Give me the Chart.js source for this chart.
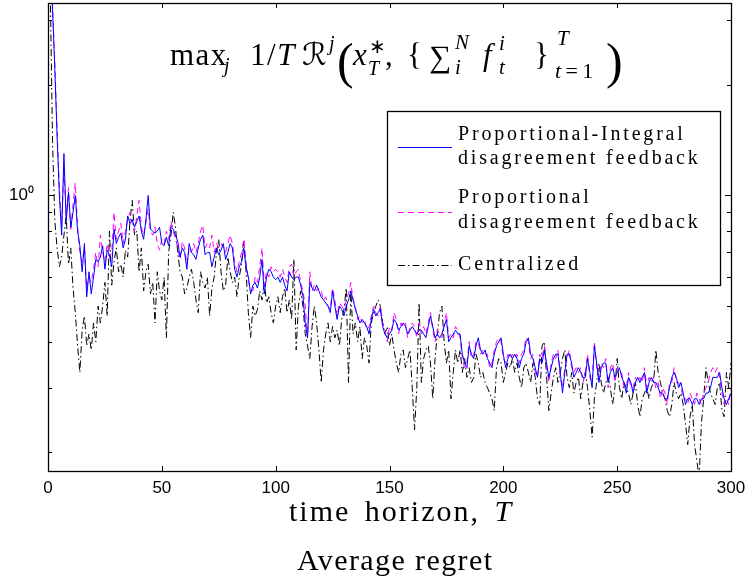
<!DOCTYPE html>
<html>
<head>
<meta charset="utf-8">
<script src="https://cdn.jsdelivr.net/npm/chart.js@4.4.1/dist/chart.umd.min.js"></script>
<style>
  html,body{margin:0;padding:0;background:#fff;}
  #wrap{position:relative;width:750px;height:581px;overflow:hidden;}
  canvas{position:absolute;left:0;top:0;}
  .tx{position:absolute;font-family:'Liberation Serif',serif;color:#000;white-space:nowrap;}
  .f{position:absolute;font-family:'Liberation Serif',serif;color:#000;white-space:nowrap;line-height:1;}
  .cal{font-family:'DejaVu Serif','DejaVu Sans',serif;}
  #xtitle{left:289px;top:494px;font-size:30px;letter-spacing:2px;word-spacing:5px;}
  #caption{left:297px;top:543px;font-size:30px;letter-spacing:1.4px;}
</style>
</head>
<body>
<div id="wrap">
  <canvas id="c" width="750" height="581"></canvas>
  <div id="formula"></div>
  <div class="tx" id="xtitle">time horizon, <i>T</i></div>
  <div class="tx" id="caption">Average regret</div>
</div>
<script>
// ---------------- data ----------------
const seriesNames = ["Proportional-Integral\ndisagreement feedback", "Proportional\ndisagreement feedback", "Centralized"];
const xTicks = [0, 50, 100, 150, 200, 250, 300];
const yTicks = [0.2, 0.3, 0.4, 0.5, 0.6, 0.7, 0.8, 0.9, 1, 2, 3];
const yLabelValue = 1;
const yLabelText = "10\u2070";

// Proportional-Integral disagreement feedback (T = 1..300)
const piRegret = [
4.5,3.2,2.2,1.45,1.0,0.78,1.3,0.85,1.02,0.82,
0.9,1.0,0.8,0.73,0.62,0.74,0.53,0.62,0.54,0.6,
0.67,0.66,0.68,0.73,0.63,0.71,0.69,0.64,0.81,0.74,
0.77,0.79,0.72,0.76,0.88,0.84,0.86,0.82,0.85,0.88,
0.8,0.76,0.86,1.0,0.81,0.8,0.79,0.8,0.82,0.74,
0.73,0.77,0.73,0.82,0.81,0.78,0.75,0.68,0.72,0.7,
0.63,0.74,0.7,0.69,0.67,0.72,0.76,0.78,0.69,0.7,
0.7,0.64,0.68,0.72,0.69,0.71,0.74,0.67,0.7,0.74,
0.72,0.63,0.6,0.64,0.66,0.72,0.64,0.6,0.54,0.57,
0.58,0.56,0.6,0.67,0.54,0.6,0.63,0.62,0.6,0.59,
0.6,0.58,0.6,0.57,0.55,0.62,0.6,0.59,0.6,0.6,
0.57,0.53,0.45,0.41,0.58,0.56,0.55,0.57,0.55,0.53,
0.52,0.51,0.5,0.48,0.55,0.5,0.46,0.5,0.49,0.47,
0.5,0.52,0.55,0.52,0.49,0.47,0.45,0.46,0.45,0.44,
0.42,0.46,0.49,0.47,0.48,0.49,0.44,0.42,0.41,0.42,
0.43,0.46,0.45,0.43,0.44,0.45,0.44,0.42,0.43,0.44,
0.43,0.42,0.43,0.43,0.42,0.41,0.44,0.47,0.44,0.41,
0.42,0.41,0.42,0.44,0.46,0.4,0.41,0.42,0.43,0.42,
0.42,0.37,0.35,0.34,0.39,0.37,0.36,0.39,0.41,0.38,
0.37,0.38,0.36,0.35,0.34,0.37,0.39,0.4,0.41,0.37,
0.34,0.36,0.37,0.36,0.37,0.36,0.34,0.36,0.37,0.4,
0.41,0.37,0.36,0.34,0.32,0.36,0.35,0.38,0.35,0.32,
0.34,0.36,0.37,0.37,0.33,0.29,0.33,0.37,0.37,0.35,
0.32,0.33,0.34,0.33,0.32,0.32,0.36,0.33,0.3,0.39,
0.35,0.31,0.34,0.35,0.35,0.31,0.33,0.34,0.32,0.33,
0.34,0.32,0.31,0.29,0.32,0.31,0.29,0.31,0.32,0.31,
0.32,0.33,0.29,0.31,0.32,0.31,0.31,0.3,0.29,0.29,
0.28,0.28,0.3,0.32,0.33,0.32,0.3,0.31,0.29,0.27,
0.28,0.28,0.27,0.28,0.28,0.27,0.28,0.28,0.29,0.29,
0.3,0.32,0.32,0.32,0.33,0.3,0.28,0.27,0.28,0.29
];

// Proportional disagreement feedback
const pRegret = [
4.6,3.3,2.3,1.5,1.05,0.82,1.2,0.88,1.05,0.8,
0.95,1.08,0.82,0.7,0.66,0.72,0.56,0.6,0.58,0.63,
0.7,0.64,0.78,0.7,0.66,0.74,0.68,0.7,0.9,0.76,
0.8,0.84,0.74,0.8,0.86,0.9,0.84,0.8,0.88,0.97,
0.82,0.78,0.84,0.92,0.8,0.78,0.82,0.74,0.71,0.76,
0.74,0.8,0.76,0.85,0.8,0.76,0.72,0.67,0.75,0.72,
0.65,0.72,0.7,0.74,0.7,0.74,0.8,0.83,0.72,0.74,
0.72,0.78,0.7,0.74,0.72,0.74,0.72,0.7,0.74,0.78,
0.74,0.66,0.62,0.66,0.7,0.76,0.66,0.58,0.56,0.55,
0.6,0.58,0.64,0.72,0.57,0.62,0.6,0.64,0.62,0.63,
0.62,0.6,0.63,0.6,0.58,0.64,0.65,0.6,0.62,0.63,
0.58,0.55,0.5,0.41,0.62,0.55,0.57,0.55,0.56,0.55,
0.52,0.53,0.5,0.49,0.56,0.52,0.47,0.51,0.5,0.49,
0.52,0.54,0.58,0.52,0.5,0.46,0.47,0.45,0.46,0.43,
0.44,0.47,0.5,0.48,0.47,0.5,0.45,0.43,0.4,0.44,
0.43,0.48,0.46,0.42,0.45,0.44,0.45,0.41,0.44,0.45,
0.44,0.41,0.45,0.42,0.44,0.42,0.45,0.48,0.43,0.4,
0.43,0.42,0.41,0.45,0.48,0.41,0.42,0.41,0.44,0.43,
0.41,0.36,0.34,0.35,0.4,0.36,0.37,0.4,0.4,0.37,
0.38,0.37,0.37,0.34,0.35,0.38,0.4,0.41,0.4,0.36,
0.35,0.37,0.36,0.37,0.36,0.37,0.35,0.37,0.38,0.41,
0.4,0.36,0.37,0.33,0.32,0.37,0.36,0.39,0.34,0.31,
0.35,0.37,0.36,0.38,0.32,0.3,0.34,0.36,0.38,0.34,
0.33,0.34,0.33,0.34,0.31,0.33,0.37,0.32,0.31,0.4,
0.34,0.32,0.35,0.34,0.36,0.3,0.34,0.35,0.31,0.34,
0.33,0.33,0.3,0.3,0.33,0.3,0.3,0.32,0.31,0.32,
0.31,0.34,0.3,0.32,0.31,0.32,0.3,0.31,0.28,0.3,
0.29,0.27,0.31,0.31,0.34,0.31,0.31,0.3,0.28,0.28,
0.27,0.29,0.28,0.27,0.29,0.28,0.27,0.29,0.3,0.31,
0.33,0.34,0.33,0.34,0.32,0.29,0.27,0.28,0.27,0.3
];

// Centralized
const cRegret = [
3.6,1.4,0.85,0.72,0.64,0.68,0.78,0.88,0.65,0.72,
0.56,0.48,0.39,0.33,0.43,0.47,0.39,0.42,0.38,0.45,
0.4,0.5,0.45,0.5,0.58,0.47,0.8,0.57,0.66,0.72,
0.62,0.65,0.6,0.71,0.68,0.85,0.97,0.78,0.8,0.62,
0.72,0.55,0.62,0.65,0.54,0.58,0.45,0.62,0.55,0.52,
0.6,0.41,0.7,0.78,0.9,0.82,0.7,0.62,0.6,0.54,
0.56,0.6,0.63,0.58,0.52,0.48,0.62,0.58,0.56,0.6,
0.47,0.56,0.6,0.7,0.76,0.62,0.55,0.57,0.68,0.62,
0.58,0.6,0.53,0.6,0.65,0.75,0.62,0.48,0.41,0.5,
0.47,0.49,0.55,0.52,0.58,0.51,0.53,0.48,0.45,0.5,
0.53,0.48,0.53,0.56,0.48,0.52,0.46,0.67,0.38,0.5,
0.55,0.5,0.42,0.39,0.36,0.44,0.5,0.45,0.38,0.31,
0.38,0.42,0.45,0.4,0.44,0.41,0.43,0.39,0.46,0.49,
0.56,0.31,0.55,0.42,0.45,0.4,0.44,0.36,0.41,0.39,
0.35,0.45,0.48,0.5,0.52,0.5,0.45,0.42,0.44,0.39,
0.42,0.38,0.35,0.33,0.37,0.38,0.34,0.36,0.38,0.3,
0.23,0.3,0.51,0.31,0.36,0.38,0.39,0.35,0.28,0.36,
0.42,0.48,0.5,0.4,0.35,0.38,0.28,0.33,0.38,0.35,
0.38,0.33,0.36,0.32,0.34,0.31,0.32,0.37,0.35,0.32,
0.33,0.31,0.3,0.29,0.28,0.26,0.34,0.36,0.35,0.31,
0.33,0.35,0.34,0.36,0.33,0.35,0.32,0.3,0.34,0.35,
0.33,0.31,0.35,0.32,0.28,0.27,0.39,0.4,0.32,0.26,
0.29,0.32,0.34,0.31,0.33,0.36,0.38,0.32,0.3,0.33,
0.29,0.31,0.32,0.28,0.31,0.33,0.3,0.26,0.22,0.28,
0.31,0.35,0.31,0.29,0.31,0.32,0.3,0.27,0.3,0.36,
0.3,0.28,0.31,0.3,0.29,0.27,0.29,0.31,0.27,0.25,
0.28,0.29,0.3,0.28,0.3,0.31,0.38,0.33,0.31,0.29,
0.28,0.26,0.25,0.27,0.31,0.29,0.28,0.29,0.27,0.24,
0.21,0.25,0.27,0.21,0.19,0.17,0.24,0.28,0.34,0.31,
0.29,0.28,0.27,0.3,0.31,0.26,0.25,0.33,0.3,0.35
];

// ---------------- formula (text pieces: text, left, baseline, size, style) ----------------
const formulaPieces = [
  ['max', 170, 65, 31, 'ls'], ['j', 224, 72, 20, 'i'],
  ['1/<i>T</i>', 250, 65, 31, 'ls'],
  ['ℛ', 302, 65, 31, 'cal'], ['j', 329, 50, 20, 'i'],
  ['(', 337, 78, 50, ''],
  ['x', 353, 65, 31, 'i'], ['∗', 369, 53, 20, ''], ['T', 368, 75, 20, 'i'], [',', 385, 65, 31, ''],
  ['{', 407, 65, 31, ''],
  ['∑', 429, 67, 31, ''], ['N', 455, 50, 21, 'i'], ['i', 455, 75, 21, 'i'],
  ['f', 483, 65, 31, 'i'], ['i', 499, 51, 21, 'i'], ['t', 499, 75, 21, 'i'],
  ['}', 534, 65, 31, ''], ['T', 557, 46, 21, 'i'], ['<i>t</i>&thinsp;=&thinsp;1', 555, 78, 22, ''],
  [')', 606, 78, 50, '']
];
const fEl = document.getElementById('formula');
formulaPieces.forEach(([t, x, base, size, st]) => {
  const s = document.createElement('span');
  s.className = 'f' + (st === 'cal' ? ' cal' : '');
  s.innerHTML = t;
  if (st === 'i') s.style.fontStyle = 'italic';
  if (st === 'ls') s.style.letterSpacing = '1.5px';
  s.style.fontSize = size + 'px';
  s.style.left = x + 'px';
  s.style.top = (base - 0.8375 * size) + 'px';
  fEl.appendChild(s);
});

// ---------------- styles ----------------
const COLORS = ['#0000ff', '#ff00ff', '#000000'];
const DASHES = [[], [6, 4], [7, 3, 1.5, 3]];

const toXY = arr => arr.map((v, i) => ({ x: i + 1, y: v }));

const frameTicks = {
  id: 'frameTicks',
  afterDatasetsDraw(chart) {
    const { ctx, chartArea: a, scales } = chart;
    ctx.save();
    ctx.strokeStyle = '#000';
    ctx.lineWidth = 1;
    ctx.beginPath();
    xTicks.forEach(v => {
      const px = Math.round(scales.x.getPixelForValue(v)) + 0.5;
      ctx.moveTo(px, a.bottom); ctx.lineTo(px, a.bottom - 5);
      ctx.moveTo(px, a.top); ctx.lineTo(px, a.top + 5);
    });
    yTicks.forEach(v => {
      const py = Math.round(scales.y.getPixelForValue(v)) + 0.5;
      const len = v === yLabelValue ? 6 : 4;
      ctx.moveTo(a.left, py); ctx.lineTo(a.left + len, py);
      ctx.moveTo(a.right, py); ctx.lineTo(a.right - len, py);
    });
    ctx.stroke();
    ctx.lineWidth = 1.3;
    ctx.strokeRect(Math.round(a.left) + 0.5, Math.round(a.top) + 0.5,
                   Math.round(a.right - a.left), Math.round(a.bottom - a.top));
    ctx.restore();
  }
};

const LEG = { left: 387, top: 111, right: 720, bottom: 285, lineX0: 398, lineX1: 452, textX: 458,
  entries: [ { lineY: 147, textY: [135, 159] }, { lineY: 212, textY: [198, 223] }, { lineY: 265, textY: [265] } ] };

function spacedText(ctx, s, x, y, sp) {
  for (const ch of s) { ctx.fillText(ch, x, y); x += ctx.measureText(ch).width + sp; }
}

const boxLegend = {
  id: 'boxLegend',
  afterDraw(chart) {
    const ctx = chart.ctx;
    ctx.save();
    ctx.fillStyle = '#fff';
    ctx.fillRect(LEG.left, LEG.top, LEG.right - LEG.left, LEG.bottom - LEG.top);
    ctx.strokeStyle = '#000'; ctx.lineWidth = 1.3;
    ctx.strokeRect(LEG.left + 0.5, LEG.top + 0.5, LEG.right - LEG.left, LEG.bottom - LEG.top);
    chart.data.datasets.forEach((ds, i) => {
      const e = LEG.entries[i];
      ctx.strokeStyle = ds.borderColor; ctx.lineWidth = 1.2;
      ctx.setLineDash(ds.borderDash || []);
      ctx.beginPath(); ctx.moveTo(LEG.lineX0, e.lineY + 0.5); ctx.lineTo(LEG.lineX1, e.lineY + 0.5); ctx.stroke();
      ctx.setLineDash([]);
      ctx.fillStyle = '#000';
      ctx.font = '20px "Liberation Serif", serif';
      ctx.textBaseline = 'middle';
      ds.label.split('\n').forEach((ln, k) => spacedText(ctx, ln, LEG.textX, e.textY[k], 2.8));
    });
    ctx.restore();
  }
};

new Chart(document.getElementById('c'), {
  type: 'line',
  data: {
    datasets: [
      { label: seriesNames[0], data: toXY(piRegret), borderColor: COLORS[0], borderDash: DASHES[0] },
      { label: seriesNames[1], data: toXY(pRegret), borderColor: COLORS[1], borderDash: DASHES[1] },
      { label: seriesNames[2], data: toXY(cRegret), borderColor: COLORS[2], borderDash: DASHES[2] }
    ].map(d => Object.assign(d, { borderWidth: 1, pointRadius: 0, tension: 0, fill: false }))
  },
  options: {
    responsive: false,
    animation: false,
    layout: { padding: { left: 0, top: 3, right: 19, bottom: 80 } },
    plugins: { legend: { display: false }, tooltip: { enabled: false }, title: { display: false } },
    scales: {
      x: {
        type: 'linear', min: 0, max: 300, bounds: 'data',
        afterBuildTicks: s => { s.ticks = xTicks.map(v => ({ value: v })); },
        ticks: { color: '#000', font: { family: '"Liberation Sans", Arial, sans-serif', size: 17 }, padding: 7, maxRotation: 0 },
        grid: { display: false, drawTicks: false },
        border: { display: false },
        afterFit: s => { s.height = 30; s.paddingLeft = 0; s.paddingRight = 0; }
      },
      y: {
        type: 'logarithmic', min: 0.178, max: 3.34, bounds: 'data',
        afterBuildTicks: s => { s.ticks = yTicks.map(v => ({ value: v })); },
        ticks: { color: '#000', font: { family: '"Liberation Sans", Arial, sans-serif', size: 17 }, padding: 14,
                 autoSkip: false, callback: v => (v === yLabelValue ? yLabelText : '') },
        grid: { display: false, drawTicks: false },
        border: { display: false },
        afterFit: s => { s.width = 48; s.paddingTop = 0; s.paddingBottom = 0; }
      }
    }
  },
  plugins: [frameTicks, boxLegend]
});
</script>
</body>
</html>
